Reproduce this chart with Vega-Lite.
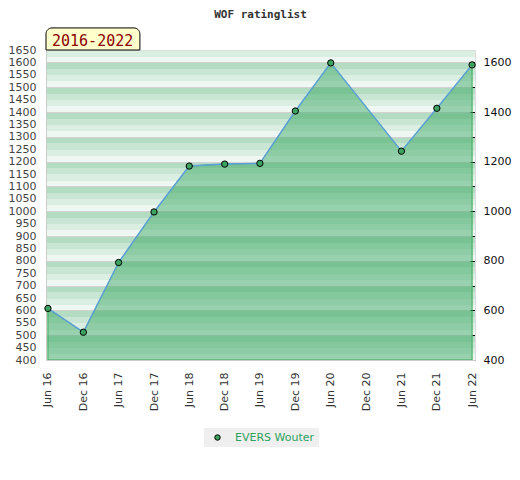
{
  "$schema": "https://vega.github.io/schema/vega-lite/v6.json",
  "width": 429,
  "height": 310,
  "autosize": "none",
  "padding": {"left": 46, "top": 50, "right": 45, "bottom": 120},
  "title": {"text": "WOF ratinglist", "font": "DejaVu Sans Mono", "fontSize": 11, "fontWeight": "bold", "color": "#333333", "anchor": "middle", "frame": "group", "baseline": "alphabetic", "offset": -2},
  "data": {"values": [
    {"date": "2016-06-01", "rating": 608, "player": "EVERS Wouter"},
    {"date": "2016-12-01", "rating": 512, "player": "EVERS Wouter"},
    {"date": "2017-06-01", "rating": 793, "player": "EVERS Wouter"},
    {"date": "2017-12-01", "rating": 997, "player": "EVERS Wouter"},
    {"date": "2018-06-01", "rating": 1182, "player": "EVERS Wouter"},
    {"date": "2018-12-01", "rating": 1190, "player": "EVERS Wouter"},
    {"date": "2019-06-01", "rating": 1193, "player": "EVERS Wouter"},
    {"date": "2019-12-01", "rating": 1404, "player": "EVERS Wouter"},
    {"date": "2020-06-01", "rating": 1598, "player": "EVERS Wouter"},
    {"date": "2021-06-01", "rating": 1242, "player": "EVERS Wouter"},
    {"date": "2021-12-01", "rating": 1415, "player": "EVERS Wouter"},
    {"date": "2022-06-01", "rating": 1590, "player": "EVERS Wouter"}
  ]},
  "layer": [
    {
      "mark": {"type": "area", "fill": "#37a660", "fillOpacity": 0.47, "stroke": "#3aaa5a", "strokeWidth": 1, "strokeOpacity": 1},
      "encoding": {
        "x": {"field": "date", "type": "temporal",
          "scale": {"type": "utc", "domain": [{"year": 2016, "month": 5, "date": 22, "utc": true}, {"year": 2022, "month": 6, "date": 16, "utc": true}]},
          "axis": {"title": null, "format": "%b %y", "tickCount": 30, "labelAngle": 270, "labelOverlap": false, "labelFlush": false, "labelSeparation": 0, "ticks": false, "labelPadding": 12, "grid": false, "domainColor": "#cccccc", "zindex": 1, "labelColor": "#333333", "labelFont": "DejaVu Sans", "labelFontSize": 11,
            "values": [1464739200000, 1480550400000, 1496275200000, 1512086400000, 1527811200000, 1543622400000, 1559347200000, 1575158400000, 1590969600000, 1606780800000, 1622505600000, 1638316800000, 1654041600000]}},
        "y": {"field": "rating", "type": "quantitative",
          "scale": {"domain": [400, 1650], "zero": false, "nice": false},
          "axis": {"orient": "left", "title": null, "format": "d", "tickCount": 30, "values": [400,450,500,550,600,650,700,750,800,850,900,950,1000,1050,1100,1150,1200,1250,1300,1350,1400,1450,1500,1550,1600,1650], "ticks": false, "labelPadding": 10, "grid": false, "domainColor": "#cccccc", "labelColor": "#444444", "labelFont": "DejaVu Sans", "labelFontSize": 11}},
        "y2": {"datum": 400}
      }
    },
    {
      "mark": {"type": "line", "color": "#5ea0d8", "strokeWidth": 1.5},
      "encoding": {
        "x": {"field": "date", "type": "temporal"},
        "y": {"field": "rating", "type": "quantitative",
          "axis": {"orient": "right", "title": null, "format": "d", "tickCount": 20, "values": [400,500,600,700,800,900,1000,1100,1200,1300,1400,1500,1600],
            "labelExpr": "datum.value % 200 === 0 ? datum.label : ''",
            "tickSize": {"condition": {"test": "datum.value % 200 === 0", "value": -5}, "value": -3},
            "tickColor": "#000000", "labelPadding": 13, "grid": true, "gridColor": "#d2d2d2", "domainColor": "#dddddd", "labelColor": "#111111", "labelFont": "DejaVu Sans", "labelFontSize": 11}}
      }
    },
    {
      "mark": {"type": "point", "filled": true, "stroke": "#000000", "strokeWidth": 1, "size": 40, "opacity": 1},
      "encoding": {
        "x": {"field": "date", "type": "temporal"},
        "y": {"field": "rating", "type": "quantitative", "axis": null},
        "fill": {"field": "player", "type": "nominal", "scale": {"range": ["#3ba35f"]},
          "legend": {"orient": "none", "legendX": 158, "legendY": 378, "title": null, "fillColor": "#efefef", "padding": 4, "symbolOffset": 4, "labelOffset": 12, "labelColor": "#2ca25f", "labelFont": "DejaVu Sans", "labelFontSize": 11, "symbolType": "circle", "symbolSize": 30, "symbolStrokeColor": "#000000", "symbolStrokeWidth": 1, "symbolOpacity": 1}}
      }
    },
    {
      "data": {"values": [{"label": "2016-2022"}]},
      "mark": {"type": "rect", "fill": "#ffffcc", "stroke": "#000000", "strokeWidth": 1, "cornerRadiusTopLeft": 6, "cornerRadiusTopRight": 6},
      "encoding": {
        "x": {"datum": {"year": 2016, "month": 5, "date": 22, "utc": true}, "type": "temporal"},
        "x2": {"datum": {"year": 2017, "month": 9, "date": 19, "utc": true}},
        "y": {"datum": 1650, "type": "quantitative", "axis": null},
        "y2": {"datum": 1739}
      }
    },
    {
      "data": {"values": [{"label": "2016-2022"}]},
      "mark": {"type": "text", "font": "DejaVu Sans Mono", "fontSize": 15, "color": "#8b0000", "align": "left", "baseline": "alphabetic", "dx": 6, "dy": -4},
      "encoding": {
        "text": {"field": "label"},
        "x": {"datum": {"year": 2016, "month": 5, "date": 22, "utc": true}, "type": "temporal"},
        "y": {"datum": 1650, "type": "quantitative", "axis": null}
      }
    }
  ],
  "resolve": {"axis": {"y": "independent"}},
  "config": {
    "font": "DejaVu Sans",
    "axisX": {"labelOverlap": false},
    "view": {
      "stroke": "#dddddd",
      "fill": {"gradient": "linear", "x1": 0, "y1": 0, "x2": 0, "y2": 1, "stops": [
        {"offset": 0, "color": "#dbeee2"}, {"offset": 0.02, "color": "#dbeee2"},
        {"offset": 0.02, "color": "#eff7f2"}, {"offset": 0.04, "color": "#eff7f2"},
        {"offset": 0.04, "color": "#b3dcc3"}, {"offset": 0.06, "color": "#b3dcc3"},
        {"offset": 0.06, "color": "#c9e6d4"}, {"offset": 0.08, "color": "#c9e6d4"},
        {"offset": 0.08, "color": "#dbeee2"}, {"offset": 0.10, "color": "#dbeee2"},
        {"offset": 0.10, "color": "#eff7f2"}, {"offset": 0.12, "color": "#eff7f2"},
        {"offset": 0.12, "color": "#b3dcc3"}, {"offset": 0.14, "color": "#b3dcc3"},
        {"offset": 0.14, "color": "#c9e6d4"}, {"offset": 0.16, "color": "#c9e6d4"},
        {"offset": 0.16, "color": "#dbeee2"}, {"offset": 0.18, "color": "#dbeee2"},
        {"offset": 0.18, "color": "#eff7f2"}, {"offset": 0.20, "color": "#eff7f2"},
        {"offset": 0.20, "color": "#b3dcc3"}, {"offset": 0.22, "color": "#b3dcc3"},
        {"offset": 0.22, "color": "#c9e6d4"}, {"offset": 0.24, "color": "#c9e6d4"},
        {"offset": 0.24, "color": "#dbeee2"}, {"offset": 0.26, "color": "#dbeee2"},
        {"offset": 0.26, "color": "#eff7f2"}, {"offset": 0.28, "color": "#eff7f2"},
        {"offset": 0.28, "color": "#b3dcc3"}, {"offset": 0.30, "color": "#b3dcc3"},
        {"offset": 0.30, "color": "#c9e6d4"}, {"offset": 0.32, "color": "#c9e6d4"},
        {"offset": 0.32, "color": "#dbeee2"}, {"offset": 0.34, "color": "#dbeee2"},
        {"offset": 0.34, "color": "#eff7f2"}, {"offset": 0.36, "color": "#eff7f2"},
        {"offset": 0.36, "color": "#b3dcc3"}, {"offset": 0.38, "color": "#b3dcc3"},
        {"offset": 0.38, "color": "#c9e6d4"}, {"offset": 0.40, "color": "#c9e6d4"},
        {"offset": 0.40, "color": "#dbeee2"}, {"offset": 0.42, "color": "#dbeee2"},
        {"offset": 0.42, "color": "#eff7f2"}, {"offset": 0.44, "color": "#eff7f2"},
        {"offset": 0.44, "color": "#b3dcc3"}, {"offset": 0.46, "color": "#b3dcc3"},
        {"offset": 0.46, "color": "#c9e6d4"}, {"offset": 0.48, "color": "#c9e6d4"},
        {"offset": 0.48, "color": "#dbeee2"}, {"offset": 0.50, "color": "#dbeee2"},
        {"offset": 0.50, "color": "#eff7f2"}, {"offset": 0.52, "color": "#eff7f2"},
        {"offset": 0.52, "color": "#b3dcc3"}, {"offset": 0.54, "color": "#b3dcc3"},
        {"offset": 0.54, "color": "#c9e6d4"}, {"offset": 0.56, "color": "#c9e6d4"},
        {"offset": 0.56, "color": "#dbeee2"}, {"offset": 0.58, "color": "#dbeee2"},
        {"offset": 0.58, "color": "#eff7f2"}, {"offset": 0.60, "color": "#eff7f2"},
        {"offset": 0.60, "color": "#b3dcc3"}, {"offset": 0.62, "color": "#b3dcc3"},
        {"offset": 0.62, "color": "#c9e6d4"}, {"offset": 0.64, "color": "#c9e6d4"},
        {"offset": 0.64, "color": "#dbeee2"}, {"offset": 0.66, "color": "#dbeee2"},
        {"offset": 0.66, "color": "#eff7f2"}, {"offset": 0.68, "color": "#eff7f2"},
        {"offset": 0.68, "color": "#b3dcc3"}, {"offset": 0.70, "color": "#b3dcc3"},
        {"offset": 0.70, "color": "#c9e6d4"}, {"offset": 0.72, "color": "#c9e6d4"},
        {"offset": 0.72, "color": "#dbeee2"}, {"offset": 0.74, "color": "#dbeee2"},
        {"offset": 0.74, "color": "#eff7f2"}, {"offset": 0.76, "color": "#eff7f2"},
        {"offset": 0.76, "color": "#b3dcc3"}, {"offset": 0.78, "color": "#b3dcc3"},
        {"offset": 0.78, "color": "#c9e6d4"}, {"offset": 0.80, "color": "#c9e6d4"},
        {"offset": 0.80, "color": "#dbeee2"}, {"offset": 0.82, "color": "#dbeee2"},
        {"offset": 0.82, "color": "#eff7f2"}, {"offset": 0.84, "color": "#eff7f2"},
        {"offset": 0.84, "color": "#b3dcc3"}, {"offset": 0.86, "color": "#b3dcc3"},
        {"offset": 0.86, "color": "#c9e6d4"}, {"offset": 0.88, "color": "#c9e6d4"},
        {"offset": 0.88, "color": "#dbeee2"}, {"offset": 0.90, "color": "#dbeee2"},
        {"offset": 0.90, "color": "#eff7f2"}, {"offset": 0.92, "color": "#eff7f2"},
        {"offset": 0.92, "color": "#b3dcc3"}, {"offset": 0.94, "color": "#b3dcc3"},
        {"offset": 0.94, "color": "#c9e6d4"}, {"offset": 0.96, "color": "#c9e6d4"},
        {"offset": 0.96, "color": "#dbeee2"}, {"offset": 0.98, "color": "#dbeee2"},
        {"offset": 0.98, "color": "#eff7f2"}, {"offset": 1, "color": "#eff7f2"}
      ]}
    }
  }
}
